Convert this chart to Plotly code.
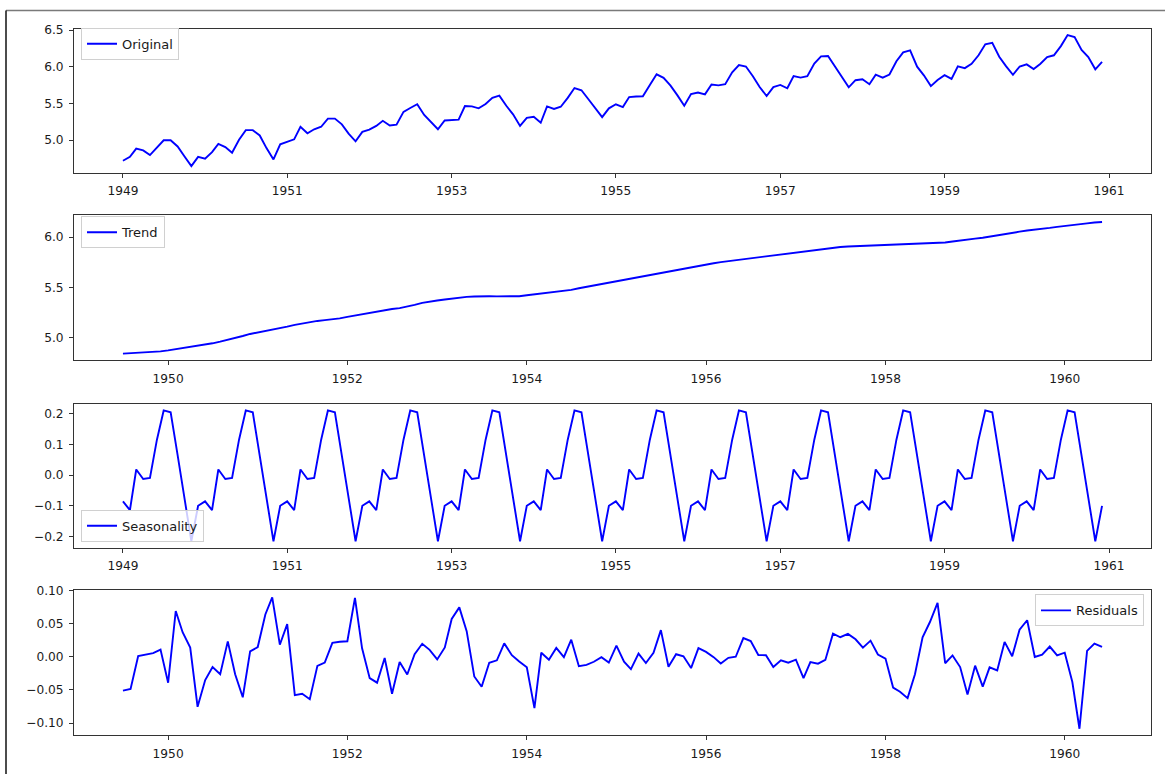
import pandas as pd
import plotly.graph_objects as go

# Log of monthly airline passengers, Jan 1949 - Dec 1960
log_passengers = [
    4.7185, 4.7707, 4.8828, 4.8598, 4.7958, 4.9053, 4.9972, 4.9972, 4.9127, 4.7791, 4.6444, 4.7707,
    4.7449, 4.8363, 4.9488, 4.9053, 4.8283, 5.0039, 5.1358, 5.1358, 5.0626, 4.8903, 4.7362, 4.9416,
    4.9767, 5.0106, 5.1818, 5.0938, 5.1475, 5.1818, 5.2933, 5.2933, 5.2149, 5.0876, 4.9836, 5.1120,
    5.1417, 5.1930, 5.2627, 5.1985, 5.2095, 5.3845, 5.4381, 5.4889, 5.3423, 5.2523, 5.1475, 5.2679,
    5.2781, 5.2781, 5.4638, 5.4596, 5.4337, 5.4931, 5.5759, 5.6058, 5.4681, 5.3519, 5.1930, 5.3033,
    5.3181, 5.2364, 5.4596, 5.4250, 5.4553, 5.5759, 5.7104, 5.6802, 5.5568, 5.4337, 5.3132, 5.4337,
    5.4889, 5.4510, 5.5872, 5.5947, 5.5984, 5.7526, 5.8972, 5.8493, 5.7430, 5.6131, 5.4681, 5.6276,
    5.6490, 5.6240, 5.7589, 5.7462, 5.7621, 5.9243, 6.0234, 6.0039, 5.8721, 5.7236, 5.6021, 5.7236,
    5.7526, 5.7071, 5.8749, 5.8522, 5.8721, 6.0450, 6.1420, 6.1463, 6.0014, 5.8493, 5.7203, 5.8171,
    5.8289, 5.7621, 5.8916, 5.8522, 5.8944, 6.0753, 6.1964, 6.2246, 6.0014, 5.8833, 5.7366, 5.8201,
    5.8861, 5.8348, 6.0064, 5.9814, 6.0403, 6.1570, 6.3063, 6.3261, 6.1377, 6.0088, 5.8916, 6.0039,
    6.0331, 5.9687, 6.0379, 6.1334, 6.1570, 6.2823, 6.4329, 6.4069, 6.2305, 6.1334, 5.9661, 6.0684,
]

# Centred 12-month moving-average trend, Jul 1949 - Jun 1960
trend = [
    4.8373, 4.8411, 4.8466, 4.8512, 4.8545, 4.8600, 4.8698, 4.8814, 4.8934, 4.9043, 4.9128, 4.9237,
    4.9405, 4.9574, 4.9744, 4.9919, 5.0131, 5.0338, 5.0478, 5.0609, 5.0738, 5.0884, 5.1069, 5.1243,
    5.1383, 5.1528, 5.1637, 5.1715, 5.1784, 5.1894, 5.2039, 5.2181, 5.2316, 5.2437, 5.2574, 5.2707,
    5.2829, 5.2921, 5.3041, 5.3233, 5.3436, 5.3574, 5.3677, 5.3783, 5.3884, 5.3978, 5.4038, 5.4072,
    5.4104, 5.4103, 5.4084, 5.4068, 5.4062, 5.4106, 5.4196, 5.4283, 5.4351, 5.4422, 5.4507, 5.4611,
    5.4737, 5.4897, 5.5040, 5.5164, 5.5294, 5.5427, 5.5579, 5.5727, 5.5875, 5.6027, 5.6167, 5.6312,
    5.6459, 5.6598, 5.6742, 5.6876, 5.7008, 5.7147, 5.7272, 5.7389, 5.7507, 5.7607, 5.7708, 5.7804,
    5.7887, 5.7965, 5.8048, 5.8141, 5.8231, 5.8327, 5.8427, 5.8535, 5.8649, 5.8755, 5.8857, 5.8945,
    5.9016, 5.9070, 5.9100, 5.9107, 5.9116, 5.9138, 5.9174, 5.9229, 5.9261, 5.9276, 5.9297, 5.9305,
    5.9330, 5.9384, 5.9462, 5.9564, 5.9678, 5.9773, 5.9853, 5.9941, 6.0040, 6.0149, 6.0266, 6.0407,
    6.0545, 6.0662, 6.0731, 6.0807, 6.0919, 6.1020, 6.1125, 6.1212, 6.1284, 6.1374, 6.1457, 6.1515,
]

# Seasonal component, Jan 1949 - Dec 1960 (same twelve monthly factors each year)
seasonality = [
    -0.0858, -0.1144, 0.0181, -0.0130, -0.0090, 0.1154, 0.2108, 0.2045, 0.0648, -0.0753, -0.2158, -0.1003,
    -0.0858, -0.1144, 0.0181, -0.0130, -0.0090, 0.1154, 0.2108, 0.2045, 0.0648, -0.0753, -0.2158, -0.1003,
    -0.0858, -0.1144, 0.0181, -0.0130, -0.0090, 0.1154, 0.2108, 0.2045, 0.0648, -0.0753, -0.2158, -0.1003,
    -0.0858, -0.1144, 0.0181, -0.0130, -0.0090, 0.1154, 0.2108, 0.2045, 0.0648, -0.0753, -0.2158, -0.1003,
    -0.0858, -0.1144, 0.0181, -0.0130, -0.0090, 0.1154, 0.2108, 0.2045, 0.0648, -0.0753, -0.2158, -0.1003,
    -0.0858, -0.1144, 0.0181, -0.0130, -0.0090, 0.1154, 0.2108, 0.2045, 0.0648, -0.0753, -0.2158, -0.1003,
    -0.0858, -0.1144, 0.0181, -0.0130, -0.0090, 0.1154, 0.2108, 0.2045, 0.0648, -0.0753, -0.2158, -0.1003,
    -0.0858, -0.1144, 0.0181, -0.0130, -0.0090, 0.1154, 0.2108, 0.2045, 0.0648, -0.0753, -0.2158, -0.1003,
    -0.0858, -0.1144, 0.0181, -0.0130, -0.0090, 0.1154, 0.2108, 0.2045, 0.0648, -0.0753, -0.2158, -0.1003,
    -0.0858, -0.1144, 0.0181, -0.0130, -0.0090, 0.1154, 0.2108, 0.2045, 0.0648, -0.0753, -0.2158, -0.1003,
    -0.0858, -0.1144, 0.0181, -0.0130, -0.0090, 0.1154, 0.2108, 0.2045, 0.0648, -0.0753, -0.2158, -0.1003,
    -0.0858, -0.1144, 0.0181, -0.0130, -0.0090, 0.1154, 0.2108, 0.2045, 0.0648, -0.0753, -0.2158, -0.1003,
]

# Residual component, Jul 1949 - Jun 1960
residuals = [
    -0.0509, -0.0484, 0.0012, 0.0032, 0.0057, 0.0110, -0.0391, 0.0693, 0.0372, 0.0140, -0.0755, -0.0351,
    -0.0155, -0.0261, 0.0234, -0.0263, -0.0611, 0.0082, 0.0148, 0.0641, 0.0899, 0.0184, 0.0496, -0.0579,
    -0.0558, -0.0640, -0.0136, -0.0086, 0.0211, 0.0229, 0.0236, 0.0893, 0.0130, -0.0322, -0.0390, -0.0016,
    -0.0557, -0.0077, -0.0266, 0.0042, 0.0198, 0.0107, -0.0038, 0.0142, 0.0573, 0.0748, 0.0388, -0.0296,
    -0.0452, -0.0090, -0.0052, 0.0204, 0.0026, -0.0070, -0.0157, -0.0775, 0.0063, -0.0042, 0.0136, -0.0005,
    0.0260, -0.0141, -0.0120, -0.0074, -0.0004, -0.0087, 0.0169, -0.0072, -0.0184, 0.0050, -0.0093, 0.0060,
    0.0404, -0.0150, 0.0040, 0.0008, -0.0169, 0.0132, 0.0076, -0.0004, -0.0099, -0.0014, 0.0002, 0.0284,
    0.0239, 0.0029, 0.0025, -0.0152, -0.0051, -0.0088, -0.0043, -0.0320, -0.0080, -0.0102, -0.0046, 0.0351,
    0.0297, 0.0348, 0.0266, 0.0139, 0.0245, 0.0036, -0.0026, -0.0464, -0.0526, -0.0623, -0.0263, 0.0295,
    0.0527, 0.0817, -0.0096, 0.0022, -0.0154, -0.0569, -0.0133, -0.0449, -0.0158, -0.0204, 0.0226, 0.0009,
    0.0410, 0.0554, -0.0002, 0.0034, 0.0156, 0.0022, 0.0064, -0.0380, -0.1086, 0.0090, 0.0202, 0.0153,
]

months = pd.date_range("1949-01-01", periods=len(log_passengers), freq="MS")
inner_months = months[6:6 + len(trend)]

W, H = 1165, 774
FONT = "DejaVu Sans"
TICK_SIZE = 12.2
LEGEND_SIZE = 13
LINE = dict(color="#0000ff", width=1.9)

# axes boxes in pixels: (top, bottom); shared left/right edges
AX_LEFT, AX_RIGHT = 74, 1151
rows = [(22.7, 168.0), (211.0, 357.0), (401.0, 546.0), (589.0, 735.0)]


def padded(lo, hi, frac=0.05, top_extra=0.0):
    span = hi - lo
    return [lo - frac * span, hi + frac * span + top_extra]


panels = [
    dict(name="Original", x=months, y=log_passengers, tick0="1949-01-01",
         ydtick=0.5, yfmt=".1f", top_extra=0.0),
    dict(name="Trend", x=inner_months, y=trend, tick0="1950-01-01",
         ydtick=0.5, yfmt=".1f", top_extra=0.0),
    dict(name="Seasonality", x=months, y=seasonality, tick0="1949-01-01",
         ydtick=0.1, yfmt=".1f", top_extra=0.0),
    dict(name="Residuals", x=inner_months, y=residuals, tick0="1950-01-01",
         ydtick=0.05, yfmt=".2f", top_extra=0.0006),
]

legend_pos = [
    dict(x=81 / W, y=1 - 22 / H, xanchor="left", yanchor="top"),
    dict(x=81 / W, y=1 - 212 / H, xanchor="left", yanchor="top"),
    dict(x=81 / W, y=1 - 540 / H, xanchor="left", yanchor="bottom"),
    dict(x=1144 / W, y=1 - 593 / H, xanchor="right", yanchor="top"),
]

fig = go.Figure()
layout = dict(
    width=W, height=H,
    margin=dict(l=0, r=0, t=0, b=0),
    paper_bgcolor="white", plot_bgcolor="white",
    font=dict(family=FONT, size=TICK_SIZE, color="black"),
    showlegend=True,
)

axis_common = dict(
    showline=True, mirror=True, linecolor="#333333", linewidth=1,
    ticks="outside", ticklen=4, tickwidth=1, tickcolor="#333333",
    ticklabelstandoff=3,
    showgrid=False, zeroline=False,
    tickfont=dict(family=FONT, size=TICK_SIZE, color="#1a1a1a"),
)

for i, (p, (top, bottom), lp) in enumerate(zip(panels, rows, legend_pos), start=1):
    sfx = "" if i == 1 else str(i)
    leg = "legend" if i == 1 else f"legend{i}"
    fig.add_trace(go.Scatter(
        x=p["x"], y=p["y"], mode="lines", name=p["name"], line=LINE,
        xaxis=f"x{sfx}", yaxis=f"y{sfx}", legend=leg, hoverinfo="x+y",
    ))
    xs = p["x"]
    span = xs[-1] - xs[0]
    layout[f"xaxis{sfx}"] = dict(
        axis_common, type="date",
        domain=[AX_LEFT / W, AX_RIGHT / W],
        anchor=f"y{sfx}",
        range=[xs[0] - 0.05 * span, xs[-1] + 0.05 * span],
        tick0=p["tick0"], dtick="M24", tickformat="%Y",
    )
    layout[f"yaxis{sfx}"] = dict(
        axis_common,
        domain=[1 - bottom / H, 1 - top / H],
        anchor=f"x{sfx}",
        range=padded(min(p["y"]), max(p["y"]), top_extra=p["top_extra"]),
        dtick=p["ydtick"], tick0=0, tickformat=p["yfmt"],
    )
    layout[leg] = dict(
        lp,
        bgcolor="rgba(255,255,255,0.8)",
        bordercolor="#d0d0d0", borderwidth=1,
        font=dict(family=FONT, size=LEGEND_SIZE, color="#1a1a1a"),
        itemclick=False, itemdoubleclick=False,
    )

# notebook cell frame: grey rule on top, dark rule on the left
layout["shapes"] = [
    dict(type="line", xref="paper", yref="paper",
         x0=6 / W, x1=1.0, y0=1 - 4.5 / H, y1=1 - 4.5 / H,
         line=dict(color="#7a7a7a", width=1.5)),
    dict(type="line", xref="paper", yref="paper",
         x0=6 / W, x1=6 / W, y0=0, y1=1 - 4.5 / H,
         line=dict(color="#111111", width=1.5)),
]

fig.update_layout(**layout)
fig.write_html("out.html", config=dict(displayModeBar=False))
